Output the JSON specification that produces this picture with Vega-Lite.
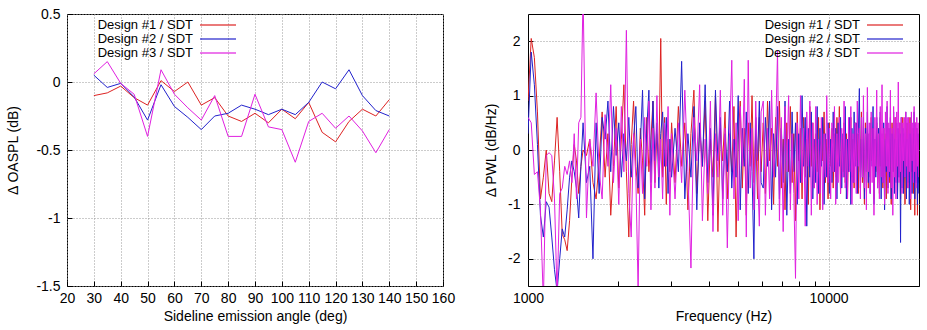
{
  "$schema": "https://vega.github.io/schema/vega-lite/v6.json",
  "padding": {"left": 6, "top": 6, "right": 4, "bottom": 4},
  "background": "white",
  "spacing": 85,
  "bounds": "flush",
  "config": {
    "font": "Liberation Sans",
    "view": {"stroke": "black", "strokeWidth": 1},
    "axis": {
      "labelFont": "Liberation Sans", "labelFontSize": 14, "labelColor": "black",
      "titleFont": "Liberation Sans", "titleFontSize": 14, "titleFontWeight": "normal", "titleColor": "black",
      "domain": false, "grid": true, "gridColor": "#999999", "gridDash": [1, 2], "gridWidth": 1,
      "tickColor": "black", "labelFlush": false, "labelOverlap": false
    },
    "legend": {
      "orient": "none", "title": null, "direction": "vertical", "symbolType": "M-3,0H3",
      "symbolSize": 144, "symbolStrokeWidth": 2, "symbolOpacity": 0.6,
      "labelAlign": "right", "labelOffset": -32, "rowPadding": 0,
      "padding": 0, "labelFont": "Liberation Sans",
      "labelFontSize": 13, "labelColor": "black"
    }
  },
  "resolve": {"legend": {"color": "independent"}},
  "hconcat": [
    {
      "width": 376, "height": 272,
      "data": {"values": [
        {"angle": 30, "d1": -0.10, "d2": 0.05, "d3": 0.06},
        {"angle": 35, "d1": -0.08, "d2": -0.04, "d3": 0.15},
        {"angle": 40, "d1": -0.03, "d2": -0.01, "d3": -0.01},
        {"angle": 45, "d1": -0.115, "d2": -0.11, "d3": -0.09},
        {"angle": 50, "d1": -0.17, "d2": -0.28, "d3": -0.40},
        {"angle": 55, "d1": 0.01, "d2": -0.02, "d3": 0.09},
        {"angle": 60, "d1": -0.07, "d2": -0.18, "d3": -0.09},
        {"angle": 65, "d1": 0.0, "d2": -0.26, "d3": -0.19},
        {"angle": 70, "d1": -0.17, "d2": -0.35, "d3": -0.28},
        {"angle": 75, "d1": -0.115, "d2": -0.25, "d3": -0.10},
        {"angle": 80, "d1": -0.25, "d2": -0.23, "d3": -0.40},
        {"angle": 85, "d1": -0.29, "d2": -0.17, "d3": -0.40},
        {"angle": 90, "d1": -0.23, "d2": -0.20, "d3": -0.09},
        {"angle": 95, "d1": -0.30, "d2": -0.24, "d3": -0.33},
        {"angle": 100, "d1": -0.20, "d2": -0.20, "d3": -0.35},
        {"angle": 105, "d1": -0.27, "d2": -0.24, "d3": -0.59},
        {"angle": 110, "d1": -0.15, "d2": -0.15, "d3": -0.29},
        {"angle": 115, "d1": -0.37, "d2": 0.0, "d3": -0.23},
        {"angle": 120, "d1": -0.44, "d2": -0.05, "d3": -0.34},
        {"angle": 125, "d1": -0.29, "d2": 0.09, "d3": -0.25},
        {"angle": 130, "d1": -0.20, "d2": -0.10, "d3": -0.36},
        {"angle": 135, "d1": -0.25, "d2": -0.21, "d3": -0.52},
        {"angle": 140, "d1": -0.13, "d2": -0.25, "d3": -0.35}
      ]},
      "transform": [{"fold": ["d1", "d2", "d3"], "as": ["s", "v"]}],
      "mark": {"type": "line", "strokeWidth": 1, "clip": true},
      "encoding": {
        "x": {"field": "angle", "type": "quantitative",
          "scale": {"domain": [20, 160], "nice": false, "zero": false},
          "axis": {"values": [20, 30, 40, 50, 60, 70, 80, 90, 100, 110, 120, 130, 140, 150, 160],
            "title": "Sideline emission angle (deg)", "tickSize": -5, "labelPadding": 10, "titlePadding": 4}},
        "y": {"field": "v", "type": "quantitative",
          "scale": {"domain": [-1.5, 0.5], "nice": false, "zero": false},
          "axis": {"values": [-1.5, -1, -0.5, 0, 0.5], "title": "Δ OASPL (dB)",
            "labelExpr": "datum.value < 0 ? '-' + format(-datum.value, '~g') : format(datum.value, '~g')",
            "tickSize": -5, "labelPadding": 12, "titlePadding": 15}},
        "color": {"field": "s", "type": "nominal",
          "scale": {"domain": ["d1", "d2", "d3"], "range": ["#dd2222", "#2222cc", "#e020e0"]},
          "legend": {"legendX": 144, "legendY": 4,
            "labelExpr": "'Design #' + slice(datum.label, 1) + ' / SDT'"}}
      }
    },
    {
      "width": 391, "height": 272,
      "data": {"values": [
        {"f":1000,"d1":0.9,"d2":0.3,"d3":0.6},
        {"f":1025,"d1":2.05,"d2":1.8,"d3":0.5},
        {"f":1050,"d1":1.7,"d2":1.2,"d3":-0.45},
        {"f":1075,"d1":0.7,"d2":0.1,"d3":-0.4},
        {"f":1100,"d1":-0.9,"d2":-1.2,"d3":-1.1},
        {"f":1125,"d1":-0.5,"d2":-1.6,"d3":-2.8},
        {"f":1150,"d1":0.0,"d2":-0.95,"d3":-0.1},
        {"f":1175,"d1":-0.8,"d2":-1.05,"d3":-0.05},
        {"f":1200,"d1":-0.95,"d2":-1.6,"d3":-0.1},
        {"f":1225,"d1":-0.2,"d2":-2.2,"d3":-0.9},
        {"f":1250,"d1":0.6,"d2":-2.6,"d3":-2.7},
        {"f":1275,"d1":-0.4,"d2":-2.0,"d3":-0.8},
        {"f":1300,"d1":-1.55,"d2":-1.45,"d3":-0.7},
        {"f":1325,"d1":-1.65,"d2":-1.6,"d3":-0.3},
        {"f":1350,"d1":-1.85,"d2":-1.1,"d3":-0.45},
        {"f":1375,"d1":-1.3,"d2":-0.5,"d3":-0.2},
        {"f":1400,"d1":-0.5,"d2":-0.2,"d3":-0.6},
        {"f":1425,"d1":0.1,"d2":-0.4,"d3":0.3},
        {"f":1450,"d1":-0.2,"d2":-0.7,"d3":-0.9},
        {"f":1475,"d1":-0.8,"d2":-1.25,"d3":0.5},
        {"f":1500,"d1":-0.3,"d2":-0.3,"d3":0.6},
        {"f":1525,"d1":0.0,"d2":0.5,"d3":2.9},
        {"f":1565,"d1":-0.1,"d2":-0.6,"d3":-1.25},
        {"f":1605,"d1":0.2,"d2":-0.3,"d3":0.2},
        {"f":1645,"d1":-0.6,"d2":-2.0,"d3":-0.3},
        {"f":1685,"d1":-0.9,"d2":0.5,"d3":1.05},
        {"f":1725,"d1":-0.2,"d2":-0.8,"d3":-0.4},
        {"f":1765,"d1":0.7,"d2":0.6,"d3":-0.9},
        {"f":1805,"d1":-0.5,"d2":0.2,"d3":0.65},
        {"f":1845,"d1":0.3,"d2":0.9,"d3":-0.3},
        {"f":1885,"d1":-1.2,"d2":-0.4,"d3":1.2},
        {"f":1925,"d1":-0.3,"d2":0.8,"d3":-0.6},
        {"f":1965,"d1":0.8,"d2":-0.1,"d3":0.4},
        {"f":2005,"d1":-0.7,"d2":0.5,"d3":-1.0},
        {"f":2045,"d1":0.2,"d2":-0.5,"d3":0.8},
        {"f":2085,"d1":1.2,"d2":0.3,"d3":-0.4},
        {"f":2125,"d1":-0.4,"d2":-0.2,"d3":2.2},
        {"f":2165,"d1":-1.6,"d2":0.6,"d3":-0.8},
        {"f":2205,"d1":0.1,"d2":-0.5,"d3":-1.6},
        {"f":2245,"d1":0.9,"d2":0.2,"d3":0.3},
        {"f":2285,"d1":-0.3,"d2":0.8,"d3":-0.5},
        {"f":2325,"d1":-0.8,"d2":-0.7,"d3":-2.6},
        {"f":2365,"d1":0.4,"d2":0.1,"d3":0.2},
        {"f":2405,"d1":-0.2,"d2":1.1,"d3":-0.8},
        {"f":2445,"d1":-1.2,"d2":-0.9,"d3":0.6},
        {"f":2485,"d1":0.6,"d2":0.4,"d3":-0.3},
        {"f":2525,"d1":-0.4,"d2":1.1,"d3":0.9},
        {"f":2565,"d1":0.2,"d2":-0.6,"d3":-1.1},
        {"f":2605,"d1":0.9,"d2":0.9,"d3":0.4},
        {"f":2645,"d1":-0.6,"d2":-0.2,"d3":-0.7},
        {"f":2685,"d1":0.3,"d2":0.5,"d3":1.0},
        {"f":2725,"d1":-0.2,"d2":-0.7,"d3":-0.5},
        {"f":2765,"d1":2.05,"d2":0.3,"d3":0.2},
        {"f":2805,"d1":-0.5,"d2":0.7,"d3":-0.9},
        {"f":2845,"d1":0.6,"d2":-0.3,"d3":0.5},
        {"f":2885,"d1":-1.0,"d2":0.6,"d3":-0.3},
        {"f":2925,"d1":0.2,"d2":-0.8,"d3":0.8},
        {"f":2965,"d1":-0.4,"d2":0.2,"d3":-1.2},
        {"f":3005,"d1":0.5,"d2":-0.5,"d3":0.3},
        {"f":3085,"d1":-0.6,"d2":0.4,"d3":-0.9},
        {"f":3165,"d1":0.8,"d2":-0.4,"d3":0.5},
        {"f":3245,"d1":-0.3,"d2":1.63,"d3":-0.6},
        {"f":3325,"d1":0.5,"d2":-0.9,"d3":1.1},
        {"f":3405,"d1":-1.1,"d2":0.3,"d3":-0.4},
        {"f":3485,"d1":0.3,"d2":-0.5,"d3":-2.17},
        {"f":3565,"d1":1.1,"d2":0.8,"d3":0.6},
        {"f":3645,"d1":-0.8,"d2":-1.1,"d3":-0.2},
        {"f":3725,"d1":0.4,"d2":0.5,"d3":1.2},
        {"f":3805,"d1":-0.3,"d2":-0.3,"d3":-1.3},
        {"f":3885,"d1":0.9,"d2":1.2,"d3":0.2},
        {"f":3965,"d1":-1.3,"d2":-0.6,"d3":-0.8},
        {"f":4045,"d1":0.2,"d2":0.4,"d3":0.9},
        {"f":4125,"d1":-0.5,"d2":-1.2,"d3":-1.5},
        {"f":4205,"d1":1.0,"d2":1.1,"d3":0.3},
        {"f":4285,"d1":-1.5,"d2":-0.2,"d3":-0.5},
        {"f":4365,"d1":0.4,"d2":0.6,"d3":1.1},
        {"f":4445,"d1":-0.2,"d2":-0.9,"d3":-1.2},
        {"f":4525,"d1":0.7,"d2":0.3,"d3":0.4},
        {"f":4605,"d1":-0.9,"d2":-0.4,"d3":-1.8},
        {"f":4685,"d1":0.3,"d2":0.9,"d3":0.2},
        {"f":4765,"d1":-0.4,"d2":-0.7,"d3":1.65},
        {"f":4845,"d1":0.8,"d2":0.2,"d3":-0.9},
        {"f":4925,"d1":-1.6,"d2":-0.5,"d3":0.5},
        {"f":5005,"d1":0.2,"d2":1.0,"d3":-1.3},
        {"f":5085,"d1":0.9,"d2":-1.1,"d3":0.8},
        {"f":5165,"d1":-0.7,"d2":0.4,"d3":-0.3},
        {"f":5245,"d1":0.4,"d2":-0.3,"d3":1.3},
        {"f":5325,"d1":-1.2,"d2":0.7,"d3":-1.6},
        {"f":5405,"d1":0.5,"d2":-0.8,"d3":1.65},
        {"f":5485,"d1":-0.3,"d2":0.5,"d3":-0.7},
        {"f":5565,"d1":1.0,"d2":-0.4,"d3":0.4},
        {"f":5645,"d1":-0.6,"d2":-2.0,"d3":-1.1},
        {"f":5725,"d1":0.3,"d2":0.6,"d3":0.9},
        {"f":5805,"d1":-0.9,"d2":-0.2,"d3":-0.4},
        {"f":5885,"d1":0.6,"d2":0.9,"d3":-1.4},
        {"f":5965,"d1":-0.4,"d2":-0.6,"d3":0.7},
        {"f":6065,"d1":0.5,"d2":-0.7,"d3":0.9},
        {"f":6165,"d1":-0.8,"d2":0.6,"d3":-1.2},
        {"f":6265,"d1":0.9,"d2":-0.3,"d3":0.4},
        {"f":6365,"d1":-0.2,"d2":0.9,"d3":-0.9},
        {"f":6465,"d1":0.4,"d2":-1.1,"d3":1.1},
        {"f":6565,"d1":-1.0,"d2":0.3,"d3":-0.5},
        {"f":6665,"d1":0.6,"d2":-0.5,"d3":0.2},
        {"f":6765,"d1":-0.3,"d2":0.8,"d3":1.82},
        {"f":6865,"d1":0.9,"d2":-0.9,"d3":-1.3},
        {"f":6965,"d1":-0.7,"d2":0.4,"d3":0.6},
        {"f":7065,"d1":0.2,"d2":-0.6,"d3":-1.5},
        {"f":7165,"d1":-1.1,"d2":0.9,"d3":0.8},
        {"f":7265,"d1":0.5,"d2":-1.2,"d3":-0.4},
        {"f":7365,"d1":-0.4,"d2":0.2,"d3":1.0},
        {"f":7465,"d1":0.8,"d2":-0.8,"d3":-1.1},
        {"f":7565,"d1":-0.6,"d2":0.7,"d3":0.3},
        {"f":7665,"d1":0.3,"d2":-0.4,"d3":-0.8},
        {"f":7765,"d1":-1.3,"d2":0.5,"d3":-2.36},
        {"f":7865,"d1":0.7,"d2":-1.0,"d3":0.5},
        {"f":7965,"d1":-0.2,"d2":0.3,"d3":-0.9},
        {"f":8065,"d1":0.4,"d2":-0.6,"d3":1.0},
        {"f":8165,"d1":-0.9,"d2":1.0,"d3":-0.6},
        {"f":8265,"d1":0.6,"d2":-0.3,"d3":0.4},
        {"f":8365,"d1":-0.5,"d2":0.6,"d3":-1.4},
        {"f":8465,"d1":0.2,"d2":-1.4,"d3":0.7},
        {"f":8565,"d1":-1.0,"d2":0.4,"d3":-0.3},
        {"f":8665,"d1":0.8,"d2":-0.5,"d3":0.9},
        {"f":8765,"d1":-0.3,"d2":0.7,"d3":-1.2},
        {"f":8865,"d1":0.5,"d2":-0.9,"d3":0.5},
        {"f":8965,"d1":-0.7,"d2":0.2,"d3":-0.7},
        {"f":9065,"d1":0.3,"d2":-0.6,"d3":0.8},
        {"f":9165,"d1":-0.4,"d2":0.8,"d3":-1.0},
        {"f":9265,"d1":0.6,"d2":-0.8,"d3":0.2},
        {"f":9365,"d1":-1.1,"d2":0.4,"d3":-0.8},
        {"f":9465,"d1":0.4,"d2":-0.3,"d3":0.6},
        {"f":9565,"d1":-0.2,"d2":0.6,"d3":-1.1},
        {"f":9665,"d1":0.7,"d2":-1.0,"d3":0.3},
        {"f":9765,"d1":-0.6,"d2":0.3,"d3":-0.5},
        {"f":9865,"d1":0.2,"d2":-0.5,"d3":1.0},
        {"f":9965,"d1":-0.9,"d2":0.5,"d3":-0.6},
        {"f":10065,"d1":0.5,"d2":-0.8,"d3":0.4},
        {"f":10165,"d1":-0.3,"d2":0.2,"d3":-0.9},
        {"f":10265,"d1":0.4,"d2":-0.6,"d3":0.5},
        {"f":10365,"d1":-0.7,"d2":0.7,"d3":-0.4},
        {"f":10465,"d1":0.3,"d2":-0.4,"d3":0.8},
        {"f":10565,"d1":-0.5,"d2":0.4,"d3":-1.0},
        {"f":10665,"d1":0.6,"d2":-0.9,"d3":0.3},
        {"f":10765,"d1":-0.2,"d2":0.5,"d3":-0.6},
        {"f":10865,"d1":0.8,"d2":-0.3,"d3":0.6},
        {"f":10965,"d1":-0.8,"d2":0.6,"d3":-0.8},
        {"f":11065,"d1":0.2,"d2":-0.7,"d3":0.4},
        {"f":11165,"d1":-0.4,"d2":0.3,"d3":-0.5},
        {"f":11265,"d1":0.5,"d2":-0.5,"d3":0.9},
        {"f":11365,"d1":-0.6,"d2":0.8,"d3":-0.7},
        {"f":11465,"d1":0.3,"d2":-0.9,"d3":0.2},
        {"f":11565,"d1":-0.9,"d2":0.2,"d3":-0.9},
        {"f":11665,"d1":0.4,"d2":-0.4,"d3":0.6},
        {"f":11765,"d1":-0.3,"d2":0.6,"d3":-0.4},
        {"f":11865,"d1":0.6,"d2":-1.0,"d3":0.8},
        {"f":11965,"d1":-0.5,"d2":0.4,"d3":-1.0},
        {"f":12065,"d1":0.2,"d2":-0.6,"d3":0.3},
        {"f":12165,"d1":-0.7,"d2":0.7,"d3":-0.6},
        {"f":12265,"d1":0.5,"d2":-0.3,"d3":0.5},
        {"f":12365,"d1":-0.2,"d2":0.5,"d3":-0.8},
        {"f":12465,"d1":0.3,"d2":-0.8,"d3":0.9},
        {"f":12565,"d1":-0.8,"d2":0.3,"d3":-0.3},
        {"f":12665,"d1":0.4,"d2":1.13,"d3":0.4},
        {"f":12765,"d1":-0.4,"d2":-0.7,"d3":-0.9},
        {"f":12865,"d1":0.7,"d2":0.2,"d3":0.6},
        {"f":12965,"d1":-0.6,"d2":-0.5,"d3":-0.5},
        {"f":13065,"d1":0.2,"d2":0.6,"d3":1.0},
        {"f":13165,"d1":-1.0,"d2":-0.9,"d3":-0.7},
        {"f":13265,"d1":0.5,"d2":0.4,"d3":0.3},
        {"f":13365,"d1":-0.3,"d2":-0.4,"d3":-1.1},
        {"f":13465,"d1":0.4,"d2":0.7,"d3":1.15},
        {"f":13565,"d1":-0.7,"d2":-0.6,"d3":-0.4},
        {"f":13665,"d1":0.3,"d2":0.3,"d3":0.5},
        {"f":13765,"d1":-0.5,"d2":-0.8,"d3":-0.8},
        {"f":13865,"d1":0.6,"d2":0.5,"d3":0.7},
        {"f":13965,"d1":-0.2,"d2":-0.3,"d3":-0.6},
        {"f":14065,"d1":0.4,"d2":0.8,"d3":0.4},
        {"f":14165,"d1":-0.9,"d2":-1.0,"d3":-1.2},
        {"f":14265,"d1":0.2,"d2":0.2,"d3":0.6},
        {"f":14365,"d1":-0.4,"d2":-0.5,"d3":-0.3},
        {"f":14465,"d1":0.5,"d2":0.6,"d3":1.1},
        {"f":14565,"d1":-0.6,"d2":-0.7,"d3":-0.7},
        {"f":14665,"d1":0.3,"d2":0.4,"d3":0.3},
        {"f":14765,"d1":-0.8,"d2":-0.3,"d3":-0.9},
        {"f":14865,"d1":0.6,"d2":0.7,"d3":0.8},
        {"f":14965,"d1":-0.3,"d2":-0.9,"d3":-0.5},
        {"f":15065,"d1":0.2,"d2":0.3,"d3":1.2},
        {"f":15165,"d1":-0.7,"d2":-0.6,"d3":-0.6},
        {"f":15265,"d1":0.4,"d2":0.5,"d3":0.4},
        {"f":15365,"d1":-0.5,"d2":-1.1,"d3":-1.0},
        {"f":15465,"d1":0.3,"d2":0.2,"d3":0.7},
        {"f":15565,"d1":-0.9,"d2":-0.4,"d3":-0.3},
        {"f":15665,"d1":0.5,"d2":0.8,"d3":0.9},
        {"f":15765,"d1":-0.2,"d2":-0.7,"d3":-0.8},
        {"f":15865,"d1":0.4,"d2":0.4,"d3":0.5},
        {"f":15965,"d1":-0.6,"d2":-0.5,"d3":-0.4},
        {"f":16065,"d1":0.2,"d2":0.6,"d3":1.1},
        {"f":16165,"d1":-1.0,"d2":-0.9,"d3":-0.7},
        {"f":16265,"d1":0.5,"d2":0.3,"d3":0.4},
        {"f":16365,"d1":-0.4,"d2":-0.4,"d3":-1.2},
        {"f":16465,"d1":0.3,"d2":0.7,"d3":0.8},
        {"f":16565,"d1":-0.7,"d2":-0.8,"d3":-0.5},
        {"f":16665,"d1":0.6,"d2":0.2,"d3":0.6},
        {"f":16765,"d1":-0.3,"d2":-0.6,"d3":-0.9},
        {"f":16865,"d1":0.4,"d2":0.5,"d3":0.7},
        {"f":16965,"d1":-0.8,"d2":-0.9,"d3":-0.3},
        {"f":17065,"d1":0.2,"d2":0.4,"d3":1.25},
        {"f":17165,"d1":-0.5,"d2":-0.5,"d3":-0.6},
        {"f":17265,"d1":0.5,"d2":0.3,"d3":0.5},
        {"f":17365,"d1":-0.9,"d2":-1.7,"d3":-0.4},
        {"f":17465,"d1":0.3,"d2":0.6,"d3":0.6},
        {"f":17565,"d1":-0.4,"d2":-0.7,"d3":-0.8},
        {"f":17665,"d1":0.6,"d2":0.4,"d3":0.5},
        {"f":17765,"d1":-0.6,"d2":-0.8,"d3":-0.2},
        {"f":17865,"d1":0.2,"d2":0.3,"d3":0.6},
        {"f":17965,"d1":-1.0,"d2":-0.5,"d3":-0.5},
        {"f":18065,"d1":0.4,"d2":0.7,"d3":0.7},
        {"f":18165,"d1":-0.3,"d2":-0.9,"d3":-0.3},
        {"f":18265,"d1":0.5,"d2":0.2,"d3":0.6},
        {"f":18365,"d1":-0.7,"d2":-0.6,"d3":-0.7},
        {"f":18465,"d1":0.3,"d2":0.5,"d3":0.6},
        {"f":18565,"d1":-0.5,"d2":-1.0,"d3":-0.4},
        {"f":18665,"d1":0.6,"d2":0.3,"d3":0.5},
        {"f":18765,"d1":-1.1,"d2":-0.4,"d3":-0.9},
        {"f":18865,"d1":0.2,"d2":0.6,"d3":0.7},
        {"f":18965,"d1":-0.4,"d2":-0.8,"d3":-0.2},
        {"f":19065,"d1":0.4,"d2":0.2,"d3":0.5},
        {"f":19165,"d1":-0.8,"d2":-0.5,"d3":-0.6},
        {"f":19265,"d1":0.3,"d2":0.7,"d3":0.8},
        {"f":19365,"d1":-1.2,"d2":-0.9,"d3":-0.4},
        {"f":19465,"d1":0.5,"d2":0.3,"d3":0.5},
        {"f":19565,"d1":-0.3,"d2":-0.6,"d3":-0.7},
        {"f":19665,"d1":0.4,"d2":0.4,"d3":0.6},
        {"f":19765,"d1":-1.2,"d2":-1.0,"d3":-0.3},
        {"f":19865,"d1":0.2,"d2":0.3,"d3":0.5},
        {"f":19965,"d1":-0.6,"d2":-0.8,"d3":-0.5}
      ]},
      "transform": [{"fold": ["d1", "d2", "d3"], "as": ["s", "v"]}],
      "mark": {"type": "line", "strokeWidth": 1, "clip": true},
      "encoding": {
        "x": {"field": "f", "type": "quantitative",
          "scale": {"type": "log", "domain": [1000, 20000], "nice": false},
          "axis": {"values": [1000, 2000, 3000, 4000, 5000, 6000, 7000, 8000, 9000, 10000, 20000],
            "title": "Frequency (Hz)",
            "labelExpr": "datum.value == 1000 || datum.value == 10000 ? format(datum.value, 'd') : ''",
            "gridOpacity": {"condition": {"test": "datum.value == 10000", "value": 1}, "value": 0},
            "tickSize": -5, "labelPadding": 10, "titlePadding": 4}},
        "y": {"field": "v", "type": "quantitative",
          "scale": {"domain": [-2.5, 2.5], "nice": false, "zero": false},
          "axis": {"values": [-2, -1, 0, 1, 2], "title": "Δ PWL (dB/Hz)",
            "labelExpr": "datum.value < 0 ? '-' + format(-datum.value, '~g') : format(datum.value, '~g')",
            "tickSize": -5, "labelPadding": 13, "titlePadding": 9}},
        "color": {"field": "s", "type": "nominal",
          "scale": {"domain": ["d1", "d2", "d3"], "range": ["#dd2222", "#2222cc", "#e020e0"]},
          "legend": {"legendX": 350, "legendY": 4,
            "labelExpr": "'Design #' + slice(datum.label, 1) + ' / SDT'"}}
      }
    }
  ]
}
